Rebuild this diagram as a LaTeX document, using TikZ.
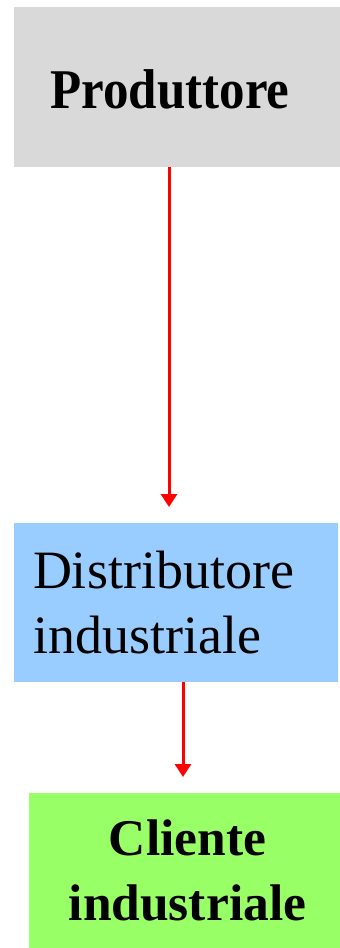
\documentclass[tikz,border=0pt]{standalone}
\usepackage{fontspec}
\usepackage{graphicx}
\setmainfont{Liberation Serif}
\usetikzlibrary{arrows.meta}
\definecolor{boxgrey}{HTML}{D9D9D9}
\definecolor{boxblue}{HTML}{99CCFF}
\definecolor{boxgreen}{HTML}{99FF66}
\definecolor{arrred}{HTML}{FF0000}
\tikzset{
  box/.style={draw=none, inner sep=0pt, outer sep=0pt},
  lbl/.style={inner sep=0pt, outer sep=0pt},
  conn/.style={draw=arrred, line width=3pt, -{Triangle[width=16pt,length=13pt]}}
}
\begin{document}
\begin{tikzpicture}[x=1pt,y=1pt]
\useasboundingbox (0,0) rectangle (340,-948);
\node[box, fill=boxgrey, minimum width=326pt, minimum height=160pt] (prod) at (177,-87) {};
\node[box, fill=boxblue, minimum width=324pt, minimum height=159pt] (dist) at (176,-602.5) {};
\node[box, fill=boxgreen, minimum width=311pt, minimum height=160pt] (cli) at (184.5,-873) {};
\node[lbl, anchor=base, font=\fontsize{51}{60}\selectfont\bfseries] (tprod) at (170,-108) {\scalebox{1}[1.1]{Produttore}};
\node[lbl, anchor=base west, align=left, font=\fontsize{54}{65}\selectfont] (tdist) at (33,-653) {Distributore\\industriale};
\node[lbl, anchor=base, align=center, font=\fontsize{51.5}{65}\selectfont\bfseries] (tcli) at (187.5,-920) {Cliente\\industriale};
\coordinate (a1) at (169,0);
\coordinate (a2) at (183,0);
\draw[conn, shorten >=16pt] (prod.south -| a1) -- (dist.north -| a1);
\draw[conn, shorten >=16pt] (dist.south -| a2) -- (cli.north -| a2);
\end{tikzpicture}
\end{document}
